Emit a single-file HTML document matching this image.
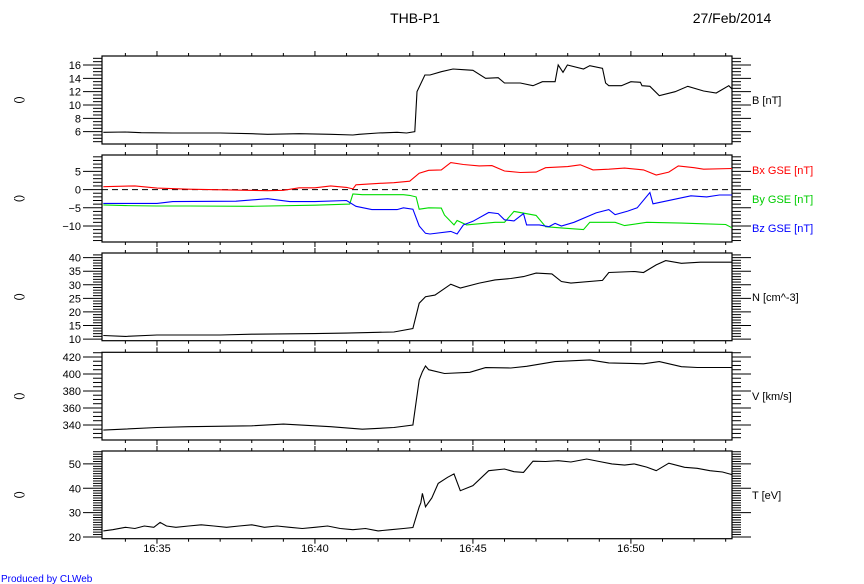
<!DOCTYPE html>
<html><head><meta charset="utf-8"><style>
html,body{margin:0;padding:0;background:#fff;}
svg{display:block;font-family:"Liberation Sans",sans-serif;}
</style></head><body>
<svg id="chart" width="864" height="584" viewBox="0 0 864 584"></svg>
<script>
const timeRange = [33.26, 53.2];
const timeTickLabels = ["16:35","16:40","16:45","16:50"];
const timeTickMinutes = [35,40,45,50];

const bT = [33.3,34,34.5,35.5,37,38,38.5,39.5,40.5,41.2,41.4,42,42.6,42.9,43.16,43.23,43.48,43.64,44.0,44.37,44.7,45.0,45.4,45.8,46.0,46.5,46.9,47.2,47.6,47.7,47.85,47.99,48.5,48.7,49.1,49.2,49.3,49.7,50.0,50.3,50.35,50.6,50.9,51.4,51.8,52.3,52.7,53.1,53.2];
const bV = [5.9,5.95,5.85,5.8,5.8,5.7,5.6,5.7,5.6,5.5,5.6,5.8,5.9,5.8,6.0,12,14.5,14.5,15.0,15.4,15.3,15.2,14.0,14.1,13.3,13.3,12.9,13.5,13.5,16.0,14.9,16.0,15.4,15.9,15.5,13.3,12.9,12.9,13.5,13.4,12.9,12.8,11.4,12.0,12.8,12.1,11.8,12.9,12.4];

const bxT = [33.3,34.3,35,36,38.5,39,39.5,40,40.5,41,41.2,41.3,42,42.5,43.0,43.3,43.6,44.0,44.3,44.7,45.2,45.6,46.0,46.5,47.0,47.3,48.0,48.4,48.8,49.3,49.8,50.4,50.8,51.2,51.5,52.0,52.3,53.2];
const bxV = [0.8,1.0,0.4,0.1,-0.3,-0.2,0.5,0.5,1.0,0.6,0.2,1.3,1.7,1.9,2.3,4.5,5.3,5.4,7.4,6.9,6.5,6.6,5.1,4.7,4.8,6.0,6.3,6.8,5.4,5.6,5.9,5.4,4.0,4.8,6.5,6.0,5.6,5.8];

const byT = [33.3,34,35,36,38,40,41.1,41.2,41.5,42.8,43.0,43.2,43.3,43.6,44.0,44.1,44.4,44.5,44.8,45.7,46.0,46.3,47.0,47.3,47.9,48.5,48.7,49.5,49.8,50.5,51.6,52.3,53.0,53.2];
const byV = [-4.2,-4.4,-4.5,-4.5,-4.6,-4.3,-4.0,-1.2,-1.4,-1.4,-1.6,-2.0,-5.4,-5.0,-5.1,-7.0,-9.7,-8.5,-9.7,-9.0,-9.0,-6.0,-7.1,-10.2,-10.6,-11.0,-9.0,-9.0,-9.9,-9.0,-9.2,-9.4,-9.6,-10.5];

const bzT = [33.3,35,35.5,37.5,38.5,39.2,40,41.0,41.3,41.8,42.6,42.8,43.1,43.3,43.5,43.64,44.3,44.5,44.7,45.0,45.5,45.8,46.0,46.3,46.6,46.7,47.1,47.4,47.6,47.8,48.2,48.9,49.3,49.5,49.9,50.2,50.6,50.7,51.3,51.9,52.4,52.8,53.2];
const bzV = [-3.8,-3.8,-3.3,-3.2,-2.5,-3.3,-3.3,-3.0,-4.6,-5.5,-5.5,-5.0,-5.4,-10,-12.0,-12.2,-11.5,-12.2,-9.7,-8.7,-6.3,-6.6,-8.3,-8.6,-6.6,-9.7,-9.7,-10.2,-9.3,-10.0,-9.0,-6.4,-5.5,-6.9,-5.9,-5.0,-0.8,-3.9,-2.8,-1.7,-2.0,-1.5,-1.5];

const nT = [33.3,34,35,37,38,40,41,42,42.5,43.1,43.3,43.5,43.8,44.3,44.6,45.2,45.7,46.2,46.6,47.0,47.5,47.8,48.1,49.1,49.3,50.1,50.4,50.8,51.1,51.6,52.2,53.2];
const nV = [11.3,11.0,11.5,11.5,11.8,12.0,12.2,12.5,12.6,13.9,23.2,25.6,26.2,30.2,28.8,30.6,31.8,32.3,33.0,34.3,34.0,31.2,30.6,31.6,34.5,34.9,34.5,37.3,38.9,37.9,38.3,38.3];

const vT = [33.3,35,36,38,39,40.5,41.5,42.5,43.1,43.3,43.4,43.5,43.6,44.1,44.9,45.4,46.2,46.7,47.6,48.7,49.3,50.4,50.9,51.6,52.1,53.2];
const vV = [334,337,338,339,341,338,335,337,340,393,402.7,409.4,405,400.5,402,407.5,407,409,414.5,416.5,413,412,414.5,408.5,407.6,407.6];

const tT = [33.3,33.6,34,34.3,34.6,34.9,35.1,35.3,35.6,36,36.4,36.8,37.2,37.6,38,38.4,38.8,39.2,39.6,40,40.4,40.8,41.2,41.6,42,42.4,42.8,43.1,43.3,43.35,43.4,43.5,43.7,43.9,44.2,44.4,44.6,45.0,45.5,46.0,46.3,46.6,46.9,47.3,47.7,48.1,48.6,49.0,49.4,49.8,50.1,50.5,50.8,51.2,51.7,52.1,52.5,52.9,53.2];
const tV = [22.5,23,24,23.5,24.5,24,26,24.5,24,24.5,25,24.5,24,24.5,25,24,24.5,24,23.5,24,24.5,23.5,23,23.5,22.5,23,23.5,23.9,32.4,34,37.9,32.4,36,42,44.5,45.9,39.0,41.1,47.2,47.9,46.8,46.5,51.1,51.0,51.3,50.8,52.0,51.0,50.0,49.5,50.0,48.7,47.2,50.3,48.6,48.2,47.2,46.7,45.6];

const NS = "http://www.w3.org/2000/svg";
const svg = document.getElementById('chart');
const X0 = 102, X1 = 732;
function xs(t){ return X0 + (t - timeRange[0]) / (timeRange[1] - timeRange[0]) * (X1 - X0); }
function mk(tag, attrs, parent){ const e = document.createElementNS(NS, tag); for (const k in attrs) e.setAttribute(k, attrs[k]); (parent||svg).appendChild(e); return e; }

const panels = [
  {name:'b', top:56, bot:144, min:4.15, max:17.35, major:2, minor:0.5, lo:6, hi:16, labels:true, series:[[bT,bV,'#000']], right:[['B [nT]','#000',100]]},
  {name:'bgse', top:155, bot:242, min:-14.4, max:9.5, major:5, minor:1, lo:-10, hi:5, labels:true, series:[[bxT,bxV,'#ff0000'],[byT,byV,'#00dd00'],[bzT,bzV,'#0000ff']], right:[['Bx GSE [nT]','#ff0000',170],['By GSE [nT]','#00cc00',199],['Bz GSE [nT]','#0000ff',228]], zero:true},
  {name:'density', top:253, bot:340.7, min:9.4, max:41.7, major:5, minor:1, lo:10, hi:40, labels:true, series:[[nT,nV,'#000']], right:[['N [cm^-3]','#000',297]]},
  {name:'velocity', top:352.3, bot:440, min:322.3, max:425.5, major:20, minor:5, lo:340, hi:420, labels:true, series:[[vT,vV,'#000']], right:[['V [km/s]','#000',396]]},
  {name:'temperature', top:451, bot:538.7, min:19.3, max:55.3, major:10, minor:1, lo:20, hi:50, labels:true, series:[[tT,tV,'#000']], right:[['T [eV]','#000',495]]}
];

panels.forEach((p, pi) => {
  const g = mk('g', {});
  
  
  const ys = v => p.bot - (v - p.min) / (p.max - p.min) * (p.bot - p.top);
  const box = mk('rect', {x:X0, y:p.top, width:X1-X0, height:p.bot-p.top, fill:'none', stroke:'#000', 'stroke-width':1.2}, g);
  
  
  // y ticks
  const start = Math.ceil(p.min / p.minor) * p.minor;
  for (let v = start; v <= p.max + 1e-9; v += p.minor) {
    const vv = Math.round(v * 100) / 100;
    const y = ys(vv);
    const isMaj = Math.abs(vv / p.major - Math.round(vv / p.major)) < 1e-6;
    const len = isMaj ? 19 : 9;
    mk('line', {x1:X0-len, x2:X0, y1:y, y2:y, stroke:'#000', 'stroke-width':1}, g);
    mk('line', {x1:X1, x2:X1+len, y1:y, y2:y, stroke:'#000', 'stroke-width':1}, g);
    if (isMaj && vv >= p.lo && vv <= p.hi) {
      const t = mk('text', {x:X0-21, y:y+4, 'font-size':11, 'text-anchor':'end', fill:'#000'}, g);
      t.textContent = vv < 0 ? '\u2212' + Math.abs(vv) : String(vv);
      
      
    }
  }
  // x ticks
  for (let m = 34; m <= 53; m++) {
    const x = xs(m);
    const len = (m % 5 === 0) ? 5 : 3;
    mk('line', {x1:x, x2:x, y1:p.top-len, y2:p.top, stroke:'#000'}, g);
    mk('line', {x1:x, x2:x, y1:p.bot, y2:p.bot+len, stroke:'#000'}, g);
  }
  if (p.zero) {
    const zl = mk('line', {x1:X0, x2:X1, y1:ys(0), y2:ys(0), stroke:'#000', 'stroke-dasharray':'6,4'}, g);
    
    
  }
  p.series.forEach(s => {
    const pts = s[0].map((t, i) => xs(t).toFixed(1) + ',' + ys(s[1][i]).toFixed(1)).join(' ');
    const pl = mk('polyline', {points:pts, fill:'none', stroke:s[2], 'stroke-width':1.1}, g);
    
    
  });
  p.right.forEach(r => {
    const t = mk('text', {x:752, y:r[2]+4, 'font-size':11, fill:r[1]}, g);
    t.textContent = r[0];
    
    
  });
  const yc = (p.top + p.bot) / 2;
  const lt = mk('text', {x:22, y:yc, 'font-size':11, 'text-anchor':'middle', transform:'rotate(-90 22 ' + yc + ')', fill:'#000'}, g);
  lt.textContent = '()';
  
  
});

timeTickMinutes.forEach((m, i) => {
  const t = mk('text', {x:xs(m), y:552, 'font-size':11, 'text-anchor':'middle', fill:'#000'});
  t.textContent = timeTickLabels[i];
  
  
});

const title = mk('text', {x:415, y:23, 'font-size':14, 'text-anchor':'middle', fill:'#000'});
title.textContent = 'THB-P1';


const date = mk('text', {x:732, y:23, 'font-size':14, 'text-anchor':'middle', fill:'#000'});
date.textContent = '27/Feb/2014';


const prod = mk('text', {x:1, y:582, 'font-size':10, fill:'#0000ff'});
prod.textContent = 'Produced by CLWeb';


</script>
</body></html>
